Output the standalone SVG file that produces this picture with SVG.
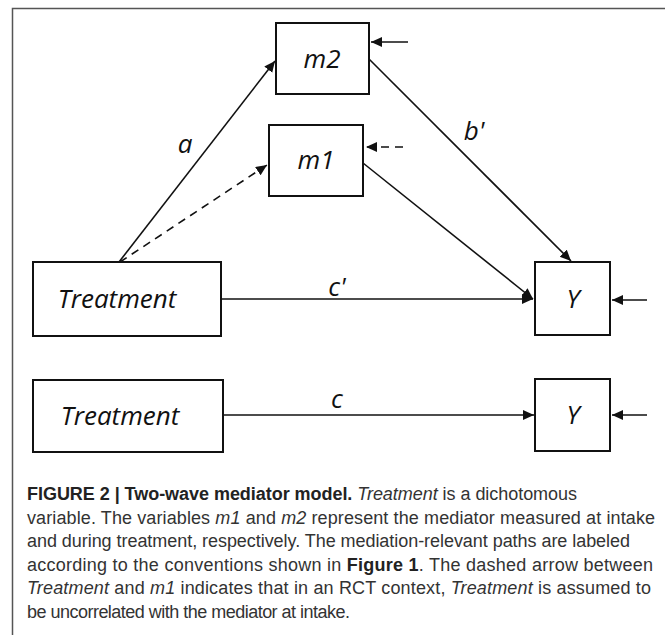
<svg xmlns="http://www.w3.org/2000/svg" width="665" height="635" viewBox="0 0 665 635">
<defs>
<style>
.box{fill:#fff;stroke:#111;stroke-width:2}
.lbl{font-family:"Open Sans","DejaVu Sans",sans-serif;font-style:italic;font-size:26px;fill:#111}
.edge{stroke:#111;stroke-width:1.6;fill:none}
.dash{stroke-dasharray:8,6}
.cap{font-family:"Liberation Sans",Arial,sans-serif;font-size:18px;fill:#333}
.b{font-weight:bold;fill:#222}
.i{font-style:italic}
</style>
<marker id="ah" markerUnits="userSpaceOnUse" markerWidth="12" markerHeight="11" refX="11" refY="5" orient="auto">
<path d="M0,0 L11,5 L0,10 z" fill="#111"/>
</marker>
</defs>
<rect width="665" height="635" fill="#fff"/>
<path d="M12.5,640 V8.5 H670" fill="none" stroke="#555" stroke-width="1.5"/>

<g id="connectors">
<line class="edge" x1="119" y1="262" x2="275" y2="61" marker-end="url(#ah)"/>
<line class="edge dash" x1="120" y1="262" x2="267" y2="165" marker-end="url(#ah)"/>
<line class="edge" x1="369" y1="59" x2="571" y2="261" marker-end="url(#ah)"/>
<line class="edge" x1="363" y1="163" x2="533" y2="299" marker-end="url(#ah)"/>
<line class="edge" x1="221" y1="299" x2="533" y2="299" marker-end="url(#ah)"/>
<line class="edge" x1="223" y1="415" x2="534" y2="415" marker-end="url(#ah)"/>
<line class="edge" x1="408" y1="42" x2="371" y2="42" marker-end="url(#ah)"/>
<line class="edge dash" x1="403" y1="147" x2="366" y2="147" marker-end="url(#ah)"/>
<line class="edge" x1="647" y1="300" x2="612" y2="300" marker-end="url(#ah)"/>
<line class="edge" x1="647" y1="415" x2="612" y2="415" marker-end="url(#ah)"/>
<text class="lbl" x="185" y="153" text-anchor="middle">a</text>
<text class="lbl" x="474" y="140" text-anchor="middle">b'</text>
<text class="lbl" x="337" y="296" text-anchor="middle">c'</text>
<text class="lbl" x="337" y="408" text-anchor="middle">c</text>
</g>

<g id="m2">
<rect class="box" x="276" y="23" width="93" height="71"/>
<text class="lbl" x="322" y="68" text-anchor="middle">m2</text>
</g>
<g id="m1">
<rect class="box" x="269" y="125" width="94" height="71"/>
<text class="lbl" x="316" y="169" text-anchor="middle">m1</text>
</g>
<g id="treatment1">
<rect class="box" x="33" y="262" width="188" height="74"/>
<text class="lbl" x="117" y="308" text-anchor="middle">Treatment</text>
</g>
<g id="y1">
<rect class="box" x="535" y="262" width="75" height="73"/>
<text class="lbl" x="573" y="308" text-anchor="middle">Y</text>
</g>
<g id="treatment2">
<rect class="box" x="33" y="380" width="190" height="72"/>
<text class="lbl" x="120" y="425" text-anchor="middle">Treatment</text>
</g>
<g id="y2">
<rect class="box" x="535" y="379" width="75" height="72"/>
<text class="lbl" x="573" y="424" text-anchor="middle">Y</text>
</g>

<g id="caption">
<text class="cap" x="27" y="500" textLength="550" lengthAdjust="spacing"><tspan class="b">FIGURE 2 | Two-wave mediator model.</tspan> <tspan class="i">Treatment</tspan> is a dichotomous</text>
<text class="cap" x="27" y="524" textLength="628" lengthAdjust="spacing">variable. The variables <tspan class="i">m1</tspan> and <tspan class="i">m2</tspan> represent the mediator measured at intake</text>
<text class="cap" x="27" y="547" textLength="603" lengthAdjust="spacing">and during treatment, respectively. The mediation-relevant paths are labeled</text>
<text class="cap" x="27" y="571" textLength="626" lengthAdjust="spacing">according to the conventions shown in <tspan class="b">Figure 1</tspan>. The dashed arrow between</text>
<text class="cap" x="27" y="594" textLength="624" lengthAdjust="spacing"><tspan class="i">Treatment</tspan> and <tspan class="i">m1</tspan> indicates that in an RCT context, <tspan class="i">Treatment</tspan> is assumed to</text>
<text class="cap" x="27" y="618" textLength="323" lengthAdjust="spacing">be uncorrelated with the mediator at intake.</text>
</g>
</svg>
